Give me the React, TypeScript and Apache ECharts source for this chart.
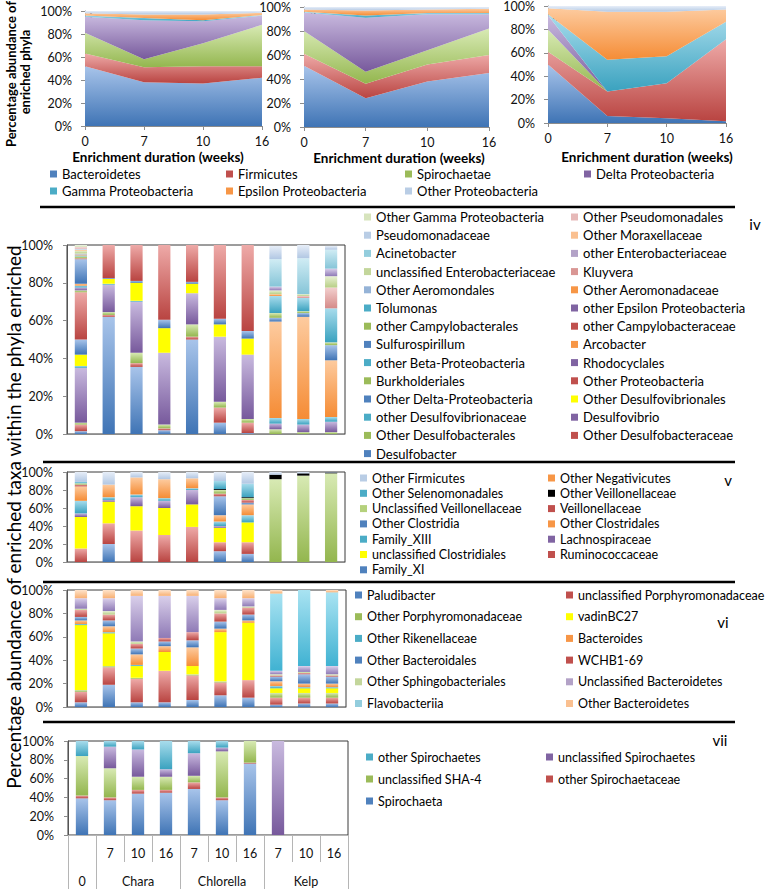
import React, { useEffect, useRef } from 'react';
import * as echarts from 'echarts';

const FONT = 'Lato, "Noto Sans", sans-serif';

// ---------------- top: phyla (area charts) ----------------
const weeks = ['0', '7', '10', '16'];
const phyla = ['Bacteroidetes', 'Firmicutes', 'Spirochaetae', 'Delta Proteobacteria', 'Gamma Proteobacteria', 'Epsilon Proteobacteria', 'Other Proteobacteria'];
const phylaI = [
  [52, 38, 37, 42],
  [11, 13, 15, 10],
  [18, 7, 20, 36],
  [14, 34, 19, 8],
  [1, 2, 1, 0.5],
  [2, 3, 5, 2],
  [2, 3, 3, 1.5],
];
const phylaII = [
  [51, 24, 38, 45],
  [10, 12, 14, 15],
  [19, 10, 12, 22],
  [15.5, 45, 30, 12],
  [0.5, 2, 1, 1],
  [2, 4, 3, 3.5],
  [2, 3, 2, 1.5],
];
const phylaIII = [
  [50, 6, 4, 1.5],
  [11, 21, 30, 70],
  [19, 0, 0, 0],
  [12, 0, 0, 0],
  [1, 27, 23, 15],
  [5, 41, 38, 10.5],
  [2, 5, 5, 3],
];
const durationTitle = 'Enrichment duration (weeks)';

// ---------------- bar panels ----------------
const sampleLabels = ['', '7', '10', '16', '7', '10', '16', '7', '10', '16'];
const groupLabels = ['0', '', 'Chara', '', '', 'Chlorella', '', '', 'Kelp', ''];

// iv: Proteobacteria taxa (bottom -> top)
const taxaIV = [
  'Desulfobacter', 'Other Desulfobacteraceae', 'Other Desulfobacterales', 'Desulfovibrio',
  'other Desulfovibrionaceae', 'Other Desulfovibrionales', 'Other Delta-Proteobacteria', 'Other Proteobacteria',
  'Burkholderiales', 'Rhodocyclales', 'other Beta-Proteobacteria', 'Arcobacter', 'Sulfurospirillum',
  'other Campylobacteraceae', 'other Campylobacterales', 'other Epsilon Proteobacteria', 'Tolumonas',
  'Other Aeromonadaceae', 'Other Aeromondales', 'Kluyvera', 'unclassified Enterobacteriaceae',
  'other Enterobacteriaceae', 'Acinetobacter', 'Other Moraxellaceae', 'Pseudomonadaceae',
  'Other Pseudomonadales', 'Other Gamma Proteobacteria',
];
const valuesIV = [
  [1.5, 62, 35.5, 2, 50, 6, 0.5, 0, 0, 0],
  [3.5, 1, 2, 1, 1.5, 8, 5.5, 0, 0, 0],
  [1, 1.5, 5.5, 2, 6.5, 3, 2, 2.5, 1, 1],
  [29, 14.5, 27, 38, 16.5, 34.5, 34, 3, 4, 5.5],
  [1, 0.5, 0.5, 0, 0, 0, 0, 3, 3, 2.5],
  [6, 2.5, 9.5, 13, 5, 6.5, 8.5, 0, 0, 0],
  [8, 0.5, 1, 4.5, 1, 3, 4, 0, 0, 0],
  [25, 17.5, 19, 39.5, 19.5, 39, 45.5, 0, 0, 0],
  [1, 0, 0, 0, 0, 0, 0, 0, 0, 0],
  [1.5, 0, 0, 0, 0, 0, 0, 0, 0, 0],
  [1, 0, 0, 0, 0, 0, 0, 0, 0, 0],
  [1, 0, 0, 0, 0, 0, 0, 51, 54, 30],
  [13, 0, 0, 0, 0, 0, 0, 2, 2, 8],
  [0.5, 0, 0, 0, 0, 0, 0, 0, 0, 0],
  [1, 0, 0, 0, 0, 0, 0, 2.5, 1, 1.5],
  [0, 0, 0, 0, 0, 0, 0, 0, 0, 0],
  [0.5, 0, 0, 0, 0, 0, 0, 9, 7, 18],
  [0.5, 0, 0, 0, 0, 0, 0, 1, 0, 0],
  [0.5, 0, 0, 0, 0, 0, 0, 0, 0, 0],
  [0, 0, 0, 0, 0, 0, 0, 0, 1, 11],
  [1.5, 0, 0, 0, 0, 0, 0, 2, 1, 6],
  [0, 0, 0, 0, 0, 0, 0, 2, 0, 4],
  [0, 0, 0, 0, 0, 0, 0, 14.5, 19, 10],
  [0.5, 0, 0, 0, 0, 0, 0, 0, 0, 0],
  [0.5, 0, 0, 0, 0, 0, 0, 7, 7, 2],
  [1, 0, 0, 0, 0, 0, 0, 0, 0, 0],
  [1.5, 0, 0, 0, 0, 0, 0, 0, 0, 0],
];

// v: Firmicutes taxa (bottom -> top)
const taxaV = [
  'Family_XI', 'Ruminococcaceae', 'unclassified Clostridiales', 'Lachnospiraceae', 'Family_XIII',
  'Other Clostridales', 'Other Clostridia', 'Veillonellaceae', 'Unclassified Veillonellaceae',
  'Other Veillonellaceae', 'Other Selenomonadales', 'Other Negativicutes', 'Other Firmicutes',
];
const valuesV = [
  [0, 20, 0, 0, 0, 12, 9, 0, 0, 0],
  [15, 23, 35, 30, 39, 10, 13, 0, 0, 0],
  [35, 24, 27, 30, 25, 16, 22, 0, 0, 0],
  [4, 2, 10, 8, 16, 2, 0, 0, 0, 0],
  [14, 3, 3, 3, 2, 5, 8, 0, 0, 0],
  [16, 14, 19, 21, 11, 7, 12, 0, 0, 0],
  [0, 0, 0, 0, 0, 21, 2, 0, 0, 0],
  [2, 0, 0, 0, 0, 3, 3, 0, 0, 0],
  [1.5, 0, 0, 0, 0, 4, 2, 92, 96, 98.5],
  [0, 0, 0, 0, 0, 1, 1, 5, 2.5, 1],
  [1.5, 0, 0, 0, 0, 9, 15, 0, 0, 0],
  [0, 0, 0, 0, 0, 0, 0, 0, 0, 0],
  [11, 14, 6, 8, 7, 10, 13, 3, 1.5, 0.5],
];

// vi: Bacteroidetes taxa (bottom -> top)
const taxaVI = [
  'Paludibacter', 'unclassified Porphyromonadaceae', 'Other Porphyromonadaceae', 'vadinBC27',
  'Other Rikenellaceae', 'Bacteroides', 'Other Bacteroidales', 'WCHB1-69',
  'Other Sphingobacteriales', 'Unclassified Bacteroidetes', 'Flavobacteriia', 'Other Bacteroidetes',
];
const valuesVI = [
  [4, 19, 4, 4, 6, 10, 8, 2, 3, 3],
  [9, 15, 20, 27, 21, 11, 15, 6, 5, 5],
  [1.5, 1, 1, 0, 1, 1, 0, 4, 4, 4],
  [55.5, 28, 10, 16, 7, 42, 49, 4, 4, 4],
  [1, 1, 1, 0, 0, 0, 0, 2, 1, 1],
  [3, 5, 9, 5, 16, 3, 2, 4, 3, 3],
  [3, 5, 5, 4, 6, 6, 5, 4, 8, 6],
  [6, 5, 4, 3, 7, 7, 6, 1, 1, 1],
  [1, 3, 2, 0, 0, 3, 1, 1, 1, 1],
  [9, 11, 39, 36, 31, 10, 7, 3, 5, 7],
  [0, 0, 0, 0, 0, 0, 0, 66, 65, 63],
  [7, 7, 5, 5, 5, 7, 7, 3, 0, 2],
];

// vii: Spirochaetes taxa (bottom -> top)
const taxaVII = ['Spirochaeta', 'other Spirochaetaceae', 'unclassified SHA-4', 'unclassified Spirochaetes', 'other Spirochaetes'];
const valuesVII = [
  [39, 37, 44, 45, 49, 37, 76, 0, 0, 0],
  [3, 3, 4, 3, 7, 3, 1, 0, 0, 0],
  [42, 31, 14, 14, 7, 49, 23, 0, 0, 0],
  [0, 23, 29, 8, 24, 4, 0, 100, 0, 0],
  [16, 6, 9, 30, 13, 7, 0, 0, 0, 0],
];

// ---------------- styles ----------------
type C = { t: string; b: string; k: string };
const B: C = { t: '#a8c4ea', b: '#3f74b5', k: '#4f81bd' };
const R: C = { t: '#eeaaa8', b: '#b94441', k: '#c0504d' };
const G: C = { t: '#d8eab4', b: '#93b64e', k: '#9bbb59' };
const P: C = { t: '#c9badf', b: '#77599c', k: '#8064a2' };
const A: C = { t: '#a8dcec', b: '#3aa2bf', k: '#4bacc6' };
const O: C = { t: '#fdcb9f', b: '#f58c35', k: '#f79646' };
const Y: C = { t: '#ffff00', b: '#ffff00', k: '#ffff00' };
const K: C = { t: '#000000', b: '#000000', k: '#000000' };
const lB: C = { t: '#d3e0f2', b: '#8dabd4', k: '#95b3d7' };
const lR: C = { t: '#f3d0cf', b: '#d58a88', k: '#d99694' };
const lG: C = { t: '#e8f1d4', b: '#b8cf86', k: '#c3d69b' };
const lP: C = { t: '#d9cfea', b: '#8f7ab6', k: '#b3a2c7' };
const lA: C = { t: '#d0ecf4', b: '#86c5d8', k: '#93cddd' };
const lO: C = { t: '#fee3cb', b: '#f8b072', k: '#fac090' };
const llB: C = { t: '#e7eef8', b: '#b1c7e3', k: '#b9cde5' };
const llR: C = { t: '#f6e3e2', b: '#e2b0af', k: '#e6b9b8' };
const llG: C = { t: '#f0f6e7', b: '#d1e0b4', k: '#d7e4bd' };
const FL: C = { t: '#a9e3f2', b: '#40b2d2', k: '#93cddd' };
const VG: C = { t: '#d8eab4', b: '#93b64e', k: '#b5d17c' };

const phylaColors = [B, R, G, P, A, O, llB];
const colorsIV = [B, R, G, P, A, Y, B, R, G, P, A, O, B, R, G, P, A, O, lB, lR, lG, lP, lA, lO, llB, llR, llG];
const colorsV = [B, R, Y, P, A, O, B, R, VG, K, A, O, llB];
const colorsVI = [B, R, G, Y, A, O, B, R, lG, lP, FL, lO];
const colorsVII = [B, R, G, P, A];

const grad = (c: C) =>
  new echarts.graphic.LinearGradient(0, 0, 0, 1, [
    { offset: 0, color: c.t },
    { offset: 1, color: c.b },
  ]);

function buildOption() {
  const grids: any[] = [
    { left: 85, top: 11, width: 177, height: 115 },
    { left: 304, top: 7, width: 185, height: 120 },
    { left: 548, top: 6, width: 178, height: 117 },
    { left: 67, top: 245, width: 278, height: 189 },
    { left: 67, top: 472, width: 278, height: 90 },
    { left: 67, top: 590, width: 279, height: 117 },
    { left: 68, top: 741, width: 280, height: 94 },
  ].map((g, i) => ({
    ...g,
    outerBoundsMode: 'none',
    containLabel: false,
    show: i >= 3,
    borderColor: '#3a3a3a',
    borderWidth: 1,
    backgroundColor: 'transparent',
  }));

  const axisGray = '#8c8c8c';
  const xAxis: any[] = [];
  for (let gi = 0; gi < 3; gi++) {
    xAxis.push({
      type: 'category', gridIndex: gi, data: weeks, boundaryGap: false,
      axisLine: { lineStyle: { color: axisGray } },
      axisTick: { show: true, length: 4, lineStyle: { color: axisGray } },
      axisLabel: { fontSize: 12.5, color: '#111', margin: 9, fontFamily: FONT },
    });
  }
  for (let gi = 3; gi < 6; gi++) {
    xAxis.push({
      type: 'category', gridIndex: gi, data: sampleLabels,
      axisLine: { lineStyle: { color: axisGray } },
      axisTick: { show: false }, axisLabel: { show: false },
    });
  }
  xAxis.push({
    type: 'category', gridIndex: 6, data: sampleLabels,
    axisLine: { lineStyle: { color: '#b5b5b5' } },
    axisTick: { show: true, length: 27, interval: 0, lineStyle: { color: '#b5b5b5' } },
    axisLabel: { interval: 0, fontSize: 12.5, color: '#111', margin: 12, fontFamily: FONT },
  });
  xAxis.push({
    type: 'category', gridIndex: 6, data: groupLabels, position: 'bottom', offset: 27,
    axisLine: { show: false },
    axisTick: { show: true, length: 27, interval: (i: number) => [0, 1, 4, 7].includes(i), lineStyle: { color: '#b5b5b5' } },
    axisLabel: { interval: 0, fontSize: 12.5, color: '#111', margin: 13, fontFamily: FONT },
  });

  const yAxis: any[] = [];
  for (let gi = 0; gi < 7; gi++) {
    yAxis.push({
      type: 'value', gridIndex: gi, min: 0, max: 100, interval: 20,
      axisLine: { show: true, lineStyle: { color: gi < 3 ? axisGray : '#555' } },
      axisTick: { show: true, length: 4, lineStyle: { color: axisGray } },
      splitLine: { show: false },
      axisLabel: { formatter: '{value}%', fontSize: 12.5, color: '#111', margin: gi < 3 ? 13 : 14, fontFamily: FONT },
    });
  }

  const series: any[] = [];
  [phylaI, phylaII, phylaIII].forEach((panel, gi) => {
    panel.forEach((vals, si) => {
      series.push({
        type: 'line', name: phyla[si], xAxisIndex: gi, yAxisIndex: gi, stack: 'top' + gi,
        data: vals, symbol: 'none', showSymbol: false,
        lineStyle: { width: 0 },
        itemStyle: { color: phylaColors[si].k },
        areaStyle: { color: grad(phylaColors[si]), opacity: 1 },
        emphasis: { disabled: true }, silent: true,
      });
    });
  });

  const barPanels = [
    { names: taxaIV, values: valuesIV, colors: colorsIV, gi: 3, xi: 3 },
    { names: taxaV, values: valuesV, colors: colorsV, gi: 4, xi: 4 },
    { names: taxaVI, values: valuesVI, colors: colorsVI, gi: 5, xi: 5 },
    { names: taxaVII, values: valuesVII, colors: colorsVII, gi: 6, xi: 6 },
  ];
  barPanels.forEach((p) => {
    p.names.forEach((n, i) => {
      series.push({
        type: 'bar', name: n, xAxisIndex: p.xi, yAxisIndex: p.gi, stack: 'bars' + p.gi,
        barWidth: '44%', data: p.values[i],
        itemStyle: { color: grad(p.colors[i]) },
        emphasis: { disabled: true }, silent: true,
      });
    });
  });

  const legend: any[] = [];
  const legendCol = (items: { name: string; c: C }[], left: number, firstY: number, pitch: number, fontSize: number) => {
    const lh = 14;
    legend.push({
      orient: 'vertical', left, top: firstY - lh / 2, padding: 0, itemGap: pitch - lh,
      itemWidth: 7, itemHeight: 7, icon: 'rect', selectedMode: false,
      textStyle: { fontSize, lineHeight: lh, color: '#000', fontFamily: FONT },
      data: items.map((it) => ({ name: it.name, itemStyle: { color: it.c.k } })),
    });
  };
  // top legend (row-major, 4 columns)
  const topItems = phyla.map((n, i) => ({ name: n, c: phylaColors[i] }));
  const topLefts = [50, 226, 405, 584];
  for (let col = 0; col < 4; col++) {
    const items = topItems.filter((_, i) => i % 4 === col);
    legendCol(items, topLefts[col], 174, 17, 13);
  }
  // bar legends (two columns, row-major)
  const twoCols = (names: string[], colors: C[], reversed: boolean, lefts: number[], firstY: number, pitch: number, fs: number) => {
    let items = names.map((n, i) => ({ name: n, c: colors[i] }));
    if (reversed) items = items.slice().reverse();
    legendCol(items.filter((_, i) => i % 2 === 0), lefts[0], firstY, pitch, fs);
    legendCol(items.filter((_, i) => i % 2 === 1), lefts[1], firstY, pitch, fs);
  };
  twoCols(taxaIV, colorsIV, true, [364, 571], 217, 18.2, 13);
  twoCols(taxaV, colorsV, true, [360, 548], 478, 15.3, 12.5);
  twoCols(taxaVI, colorsVI, false, [355, 566], 595, 21.7, 12.5);
  twoCols(taxaVII, colorsVII, true, [366, 546], 757, 22, 12.5);

  const sep = (y: number, x1: number) => ({
    type: 'line', shape: { x1, y1: y, x2: 735, y2: y }, style: { stroke: '#000', lineWidth: 2.6 }, silent: true,
  });
  const txt = (text: string, x: number, y: number, fontSize: number, extra: any = {}) => ({
    type: 'text', x, y, silent: true,
    style: { text, fontSize, fontFamily: FONT, fill: '#000', align: 'center', verticalAlign: 'middle', ...extra.style },
    ...(extra.rotation !== undefined ? { rotation: extra.rotation } : {}),
  });
  const bold = { style: { fontWeight: 'bold' } };
  const graphic: any[] = [
    sep(207, 40), sep(462, 43), sep(582, 43), sep(722, 43),
    txt('i', 91, 17, 14), txt('ii', 313, 17, 14), txt('iii', 557, 15, 14),
    txt('iv', 755, 224, 15), txt('v', 728, 480, 15), txt('vi', 723, 622, 15), txt('vii', 720, 740, 15),
    txt(durationTitle, 158, 157, 13.5, bold),
    txt(durationTitle, 399, 158, 13.5, bold),
    txt(durationTitle, 647, 157, 13.5, bold),
    txt('Percentage abundance of', 11, 74, 13, { rotation: Math.PI / 2, ...bold }),
    txt('enriched phyla', 25, 72, 13, { rotation: Math.PI / 2, ...bold }),
    txt('Percentage abundance of enriched taxa within the phyla enriched', 13, 517, 19, { rotation: Math.PI / 2 }),
  ];

  return {
    animation: false,
    backgroundColor: '#ffffff',
    textStyle: { fontFamily: FONT },
    grid: grids,
    xAxis, yAxis, series, legend, graphic,
  };
}

export default function App() {
  const ref = useRef<HTMLDivElement>(null);
  useEffect(() => {
    const chart = echarts.init(ref.current!, null, { renderer: 'svg' });
    chart.setOption(buildOption() as any);
    return () => chart.dispose();
  }, []);
  return (
    <div
      ref={ref}
      style={{ position: 'fixed', left: 0, top: 0, width: 772, height: 889, background: '#fff' }}
    />
  );
}
